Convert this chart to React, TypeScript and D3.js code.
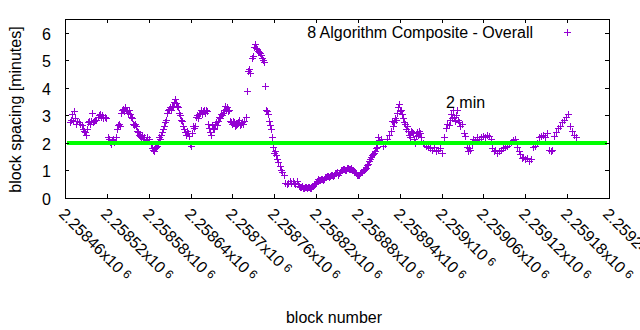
import React from "react";
import * as d3 from "d3";

const BLOCK_BASE = 2258460;

const blockOffsets = [
  7, 9, 10, 11, 13, 14, 16, 17, 20, 22,
  24, 26, 27, 29, 30, 32, 33, 34, 36, 37,
  39, 40, 42, 43, 44, 47, 49, 50, 52, 53,
  54, 57, 59, 62, 63, 65, 66, 67, 69, 70,
  73, 75, 76, 77, 79, 80, 82, 83, 85, 86,
  87, 89, 90, 92, 93, 95, 96, 97, 99, 100,
  102, 103, 105, 106, 108, 109, 110, 112, 113, 116,
  118, 120, 123, 125, 126, 128, 129, 130, 132, 133,
  135, 136, 138, 139, 141, 142, 143, 145, 146, 148,
  149, 151, 152, 153, 155, 156, 158, 159, 161, 162,
  163, 165, 166, 168, 169, 171, 172, 173, 175, 176,
  178, 179, 181, 182, 184, 185, 186, 188, 189, 191,
  192, 194, 195, 196, 198, 199, 201, 202, 204, 205,
  206, 208, 209, 211, 212, 214, 215, 216, 218, 219,
  221, 222, 224, 225, 227, 228, 229, 231, 232, 234,
  235, 237, 238, 239, 241, 242, 244, 245, 247, 248,
  249, 251, 252, 254, 255, 257, 259, 261, 262, 264,
  265, 268, 270, 271, 272, 274, 275, 277, 278, 280,
  281, 282, 284, 285, 287, 288, 290, 291, 292, 294,
  295, 297, 298, 300, 301, 303, 304, 305, 308, 310,
  311, 314, 315, 318, 320, 323, 324, 327, 328, 330,
  333, 335, 338, 341, 344, 347, 350, 353, 356, 358,
  361, 364, 367, 370, 373, 376, 378, 381, 384, 387,
  390, 393, 396, 399, 401, 404, 407, 410, 413, 416,
  419, 422, 424, 427, 430, 433, 436, 439, 442, 444,
  447, 449, 450, 453, 456, 459, 462, 465, 467, 469,
  470, 472, 473, 475, 476, 477, 479, 480, 482, 483,
  485, 486, 487, 489, 490, 492, 493, 495, 496, 497,
  499, 500, 502, 503, 505, 506, 508, 509, 510, 513,
  515, 518, 520, 523, 526, 529, 532, 535, 538, 541,
  543, 546, 548, 551, 552, 553, 555, 556, 558, 559,
  561, 562, 563, 565, 566, 569, 572, 573, 576, 578,
  579, 581, 584, 585, 588, 591, 594, 596, 599, 602,
  605, 608, 611, 612, 615, 616, 619, 622, 625, 628,
  631, 634, 637, 639, 642, 645, 648, 651, 652, 655,
  657, 660, 662, 665, 668, 671, 674, 677, 680, 682,
  685, 688, 691, 694, 697, 698, 701, 704, 707, 710,
  713, 715, 718, 721, 724, 727, 730, 733,
  // low-spacing stretch, more blocks
  334, 337, 340, 343, 346, 348, 351, 354, 357, 360,
  363, 366, 368, 371, 374, 377, 380, 383, 386, 389,
  391, 394, 397, 400, 403, 406, 409, 411, 414, 417,
  420, 423, 426, 429, 432, 434, 437, 440, 443, 446,
];

const spacingMinutes = [
  2.75, 2.85, 3.05, 2.8, 3.15, 2.9, 2.7, 2.8, 2.75, 2.7,
  2.65, 2.5, 2.45, 2.4, 2.3, 2.5, 2.75, 2.8, 2.7, 2.8,
  3.1, 2.75, 2.8, 2.85, 2.85, 2.95, 3.0, 3.05, 2.95, 3.0,
  2.9, 2.95, 2.9, 2.2, 2.15, 2.05, 1.95, 2.1, 2.15, 2.05,
  2.2, 2.5, 2.65, 2.7, 2.6, 3.1, 3.2, 3.25, 3.15, 3.3,
  3.2, 3.15, 3.1, 3.2, 3.05, 2.95, 2.9, 2.7, 2.65, 2.7,
  2.6, 2.45, 2.4, 2.3, 2.25, 2.2, 2.3, 2.15, 2.2, 2.1,
  2.2, 2.15, 1.95, 1.8, 1.75, 1.7, 1.8, 1.85, 1.9, 2.05,
  2.2, 2.15, 2.3, 2.4, 2.5, 2.6, 2.75, 2.85, 3.1, 3.2,
  3.25, 3.3, 3.2, 3.35, 3.3, 3.5, 3.6, 3.45, 3.35, 3.3,
  3.1, 3.0, 2.85, 2.8, 2.6, 2.5, 2.4, 2.3, 2.45, 2.35,
  2.25, 1.95, 1.9, 2.35, 2.6, 2.55, 2.6, 2.95, 3.0, 2.9,
  3.05, 3.1, 3.2, 3.05, 3.15, 3.2, 3.1, 3.2, 3.15, 2.7,
  2.55, 2.4, 2.3, 2.65, 2.55, 2.5, 2.7, 2.75, 2.65, 2.8,
  2.95, 2.9, 3.05, 3.0, 3.1, 3.2, 3.35, 3.25, 3.3, 3.15,
  3.2, 2.8, 2.75, 2.7, 2.8, 2.75, 2.6, 2.65, 2.7, 2.75,
  2.85, 2.65, 2.7, 2.75, 2.7, 2.8, 2.95, 3.9, 4.6, 4.7,
  4.55, 5.1, 5.15, 5.5, 5.6, 5.45, 5.4, 5.35, 5.3, 5.25,
  5.2, 5.1, 5.0, 4.95, 4.05, 3.2, 3.15, 3.05, 2.8, 2.65,
  2.5, 2.2, 1.85, 1.65, 1.7, 1.55, 1.4, 1.3, 1.15, 1.0,
  0.95, 0.85, 0.55, 0.5, 0.55, 0.6, 0.55, 0.6, 0.55, 0.5,
  0.6, 0.45, 0.4, 0.35, 0.4, 0.35, 0.4, 0.35, 0.45, 0.5,
  0.6, 0.65, 0.7, 0.65, 0.75, 0.8, 0.75, 0.85, 0.8, 0.9,
  0.95, 0.9, 1.0, 1.05, 1.0, 1.1, 1.05, 1.1, 1.0, 0.95,
  0.85, 0.85, 0.95, 1.0, 1.05, 1.2, 1.35, 1.5, 1.6, 1.7,
  1.85, 2.2, 2.1, 2.15, 1.9, 1.95, 2.15, 2.3, 2.45, 2.8,
  2.6, 2.75, 2.9, 2.85, 3.1, 3.3, 3.4, 3.15, 3.2, 3.05,
  2.9, 2.75, 2.7, 2.5, 2.6, 2.45, 2.3, 2.2, 2.45, 2.4,
  2.35, 2.15, 2.0, 2.25, 2.4, 2.3, 2.45, 2.35, 2.2, 2.0,
  1.95, 1.9, 1.85, 1.8, 1.75, 1.85, 1.7, 1.75, 1.8, 1.65,
  2.2, 2.55, 2.7, 2.65, 2.85, 3.05, 2.9, 3.2, 2.95, 2.8,
  3.0, 3.2, 2.85, 2.75, 2.6, 2.7, 2.35, 2.25, 1.85, 1.7,
  1.8, 1.75, 1.95, 2.15, 2.1, 2.2, 2.15, 2.2, 2.25, 2.2,
  2.3, 2.25, 2.15, 1.8, 1.7, 1.75, 1.65, 1.7, 1.75, 1.8,
  1.85, 1.9, 1.95, 2.05, 2.1, 2.15, 1.85, 1.7, 1.6, 1.45,
  1.5, 1.4, 1.45, 1.35, 1.4, 1.85, 1.9, 2.0, 2.2, 2.25,
  2.3, 2.2, 2.35, 1.75, 1.7, 1.75, 2.25, 2.4, 2.55, 2.6,
  2.75, 2.85, 2.95, 3.05, 2.6, 2.45, 2.3, 2.2,
  // low-spacing stretch, more blocks
  0.5, 0.4, 0.45, 0.35, 0.4, 0.4, 0.35, 0.45, 0.5, 0.55,
  0.7, 0.65, 0.7, 0.7, 0.75, 0.8, 0.8, 0.85, 0.85, 0.9,
  0.85, 0.95, 1.0, 1.05, 1.0, 1.1, 1.05, 1.0, 0.95, 0.9,
  0.85, 0.9, 0.95, 1.0, 1.1, 1.25, 1.4, 1.55, 1.65, 1.8,
];

const xTickValues = [
  2258460, 2258520, 2258580, 2258640, 2258700, 2258760, 2258820,
  2258880, 2258940, 2259000, 2259060, 2259120, 2259180, 2259240,
];
const yTickValues = [0, 1, 2, 3, 4, 5, 6];
const targetMinutes = 2;
const seriesTitle = "8 Algorithm Composite - Overall";
const targetLabel = "2 min";
const xTitle = "block number";
const yTitle = "block spacing [minutes]";

const W = 640;
const H = 330;
const M = { left: 65, right: 609, top: 19, bottom: 198 };
const FONT = "'Liberation Sans', Arial, sans-serif";
const PURPLE = "#9400d3";
const FS = 16;

export default function App() {
  const x = d3.scaleLinear().domain([2258460, 2259240]).range([M.left, M.right]);
  const y = d3.scaleLinear().domain([0, 6.5]).range([M.bottom, M.top]);

  const points = blockOffsets
    .map((o, i) => [BLOCK_BASE + o, spacingMinutes[i]] as [number, number])
    .filter((p) => p[1] !== undefined);

  const plusPath = (cx: number, cy: number, r: number) => {
    const px = Math.round(cx) + 0.5;
    const py = Math.round(cy) + 0.5;
    return `M${px - r},${py}H${px + r}M${px},${py - r}V${py + r}`;
  };

  const tickLen = 4;
  const fmtMantissa = (v: number) => String(+(v / 1e6).toFixed(5));

  return (
    <svg
      width={W}
      height={H}
      style={{ position: "absolute", left: 0, top: 0, background: "#fff" }}
      fontFamily={FONT}
    >
      <rect x={0} y={0} width={W} height={H} fill="#fff" />
      {/* data points */}
      <g stroke={PURPLE} strokeWidth={1} fill="none">
        {points.map((p, i) => (
          <path key={i} d={plusPath(x(p[0]), y(p[1]), 3.5)} />
        ))}
      </g>
      {/* target line */}
      <line
        x1={x(x.domain()[0]) + 2}
        x2={x(x.domain()[1]) - 2}
        y1={y(targetMinutes)}
        y2={y(targetMinutes)}
        stroke="#00ff00"
        strokeWidth={4}
      />
      {/* frame */}
      <rect
        x={M.left + 0.5}
        y={M.top + 0.5}
        width={M.right - M.left}
        height={M.bottom - M.top}
        fill="none"
        stroke="#000"
        strokeWidth={1}
        shapeRendering="crispEdges"
      />
      {/* y ticks */}
      {yTickValues.map((v) => {
        const yy = Math.round(y(v)) + 0.5;
        return (
          <g key={"y" + v}>
            <line x1={M.left} x2={M.left + tickLen} y1={yy} y2={yy} stroke="#000" shapeRendering="crispEdges" />
            <line x1={M.right} x2={M.right - tickLen} y1={yy} y2={yy} stroke="#000" shapeRendering="crispEdges" />
            <text x={51} y={yy + 6} textAnchor="end" fontSize={FS} fill="#000">
              {v}
            </text>
          </g>
        );
      })}
      {/* x ticks */}
      {xTickValues.map((v) => {
        const xx = Math.round(x(v)) + 0.5;
        return (
          <g key={"x" + v}>
            <line x1={xx} x2={xx} y1={M.bottom} y2={M.bottom - tickLen} stroke="#000" shapeRendering="crispEdges" />
            <line x1={xx} x2={xx} y1={M.top} y2={M.top + tickLen} stroke="#000" shapeRendering="crispEdges" />
            <text
              transform={`translate(${xx - 7.5},${215}) rotate(45)`}
              fontSize={FS}
              fill="#000"
              textAnchor="start"
            >
              {fmtMantissa(v)}x10
              <tspan dx={4} dy={-3} fontSize={12}>6</tspan>
            </text>
          </g>
        );
      })}
      {/* axis titles */}
      <text transform={`translate(21,${(M.top + M.bottom) / 2 + 1}) rotate(-90)`} textAnchor="middle" fontSize={FS} fill="#000">
        {yTitle}
      </text>
      <text x={334} y={323} textAnchor="middle" fontSize={FS} fill="#000">
        {xTitle}
      </text>
      {/* legend */}
      <text x={533} y={37.5} textAnchor="end" fontSize={FS} fill="#000">
        {seriesTitle}
      </text>
      <path d={plusPath(567, 32, 3.5)} stroke={PURPLE} strokeWidth={1} fill="none" />
      {/* label */}
      <text x={446} y={107.5} fontSize={FS} fill="#000">
        {targetLabel}
      </text>
    </svg>
  );
}
